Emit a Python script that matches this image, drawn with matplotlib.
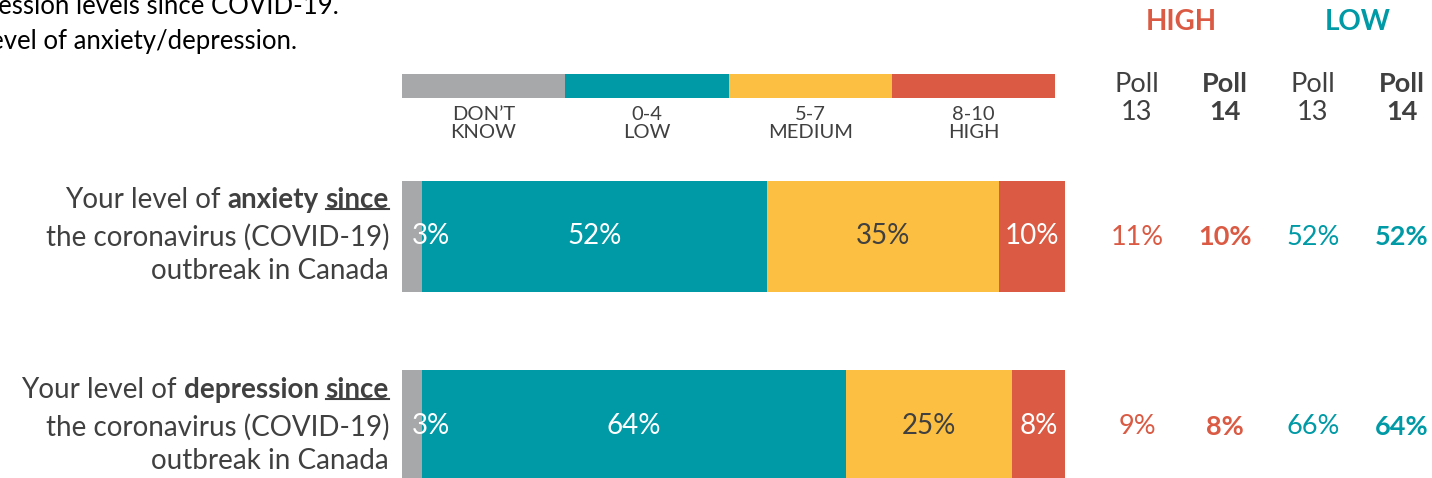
import matplotlib.pyplot as plt
import numpy as np

plt.rcParams['font.family'] = ['Lato', 'DejaVu Sans']

# chart values
rows = ['anxiety', 'depression']
dont_know = [3, 3]
low = [52, 64]
medium = [35, 25]
high = [10, 8]
high_poll13 = [11, 9]
high_poll14 = [10, 8]
low_poll13 = [52, 66]
low_poll14 = [52, 64]
legend_labels = ['DON\u2019T\nKNOW', '0-4\nLOW', '5-7\nMEDIUM', '8-10\nHIGH']
title_lines = ['depression levels since COVID-19.', 'level of anxiety/depression.']

W, H = 1432, 478
GRAY = '#A7A8AA'
TEAL = '#009AA6'
YELLOW = '#FDBF41'
RED = '#DA5A43'
DARK = '#404040'

def main():
    fig = plt.figure(figsize=(W/100, H/100), dpi=100)
    base = fig.add_axes([0, 0, 1, 1])
    base.set_xlim(0, W)
    base.set_ylim(H, 0)
    base.axis('off')
    drawTitle(base)
    drawLegend(fig, base)
    drawBars(fig)
    drawRowLabels(fig, base)
    drawPolls(base)
    fig.savefig('out.png', dpi=100)

# pxAxes() Function:
# makes an axes from pixel edges of the picture (y counted from the top)
def pxAxes(fig, x0, x1, y0, y1):
    return fig.add_axes([x0/W, 1-y1/H, (x1-x0)/W, (y1-y0)/H])

def drawTitle(base):
    base.text(339, 6, title_lines[0], ha='right', va='center', fontsize=18.5, color='black')
    base.text(297, 41, title_lines[1], ha='right', va='center', fontsize=18.5, color='black')

def drawLegend(fig, base):
    ax = pxAxes(fig, 402, 1055, 74, 98)
    colors = [GRAY, TEAL, YELLOW, RED]
    for i in range(4):
        ax.barh(0, 25, left=25*i, height=1, color=colors[i])
    ax.set_xlim(0, 100)
    ax.set_ylim(-0.5, 0.5)
    ax.axis('off')
    for i in range(4):
        x = 402 + (i+0.5)*653/4
        base.text(x, 106, legend_labels[i], ha='center', va='top', fontsize=14.5,
                  color=DARK, linespacing=1.1)

def drawBars(fig):
    ax = pxAxes(fig, 402, 1065, 181, 481)
    y = np.arange(len(rows))
    segments = [(dont_know, GRAY, 'white'), (low, TEAL, 'white'),
                (medium, YELLOW, DARK), (high, RED, 'white')]
    left = np.zeros(len(rows))
    for vals, color, tcolor in segments:
        vals = np.array(vals)
        ax.barh(y, vals, left=left, height=0.587, color=color)
        for k in range(len(rows)):
            if vals[k] < 5:
                ax.text(left[k]+1.5, y[k], f'{vals[k]}%', ha='left', va='center',
                        fontsize=20, color=tcolor)
            else:
                ax.text(left[k]+vals[k]/2, y[k], f'{vals[k]}%', ha='center', va='center',
                        fontsize=20, color=tcolor)
        left = left + vals
    ax.set_xlim(0, 100)
    ax.set_ylim(1.2935, -0.2935)
    ax.axis('off')

# drawRowLabels() Function:
# writes the row labels right aligned, with the bold and underlined words
# built piece by piece from right to left
def drawRowLabels(fig, base):
    renderer = fig.canvas.get_renderer()
    inv = base.transData.inverted()
    centers = [200, 390]
    for k in range(len(rows)):
        yc = centers[k]
        x = 389
        pieces = [('since', 'bold', True), (' ', 'normal', False),
                  (rows[k], 'bold', False), ('Your level of ', 'normal', False)]
        for txt, weight, under in pieces:
            t = base.text(x, yc, txt, ha='right', va='center', fontsize=20,
                          fontweight=weight, color=DARK)
            bb = t.get_window_extent(renderer)
            (xl, yb) = inv.transform((bb.x0, bb.y0))
            (xr, _) = inv.transform((bb.x1, bb.y0))
            if under:
                base.plot([xl, xr], [yb-4, yb-4], color=DARK, lw=1.5)
            x = xl
        base.text(389, yc+37, 'the coronavirus (COVID-19)', ha='right', va='center',
                  fontsize=20, color=DARK)
        base.text(389, yc+71, 'outbreak in Canada', ha='right', va='center',
                  fontsize=20, color=DARK)

def drawPolls(base):
    base.text(1181, 22, 'HIGH', ha='center', va='center', fontsize=20,
              fontweight='bold', color=RED)
    base.text(1358, 22, 'LOW', ha='center', va='center', fontsize=20,
              fontweight='bold', color=TEAL)
    cols = [1137, 1225, 1313, 1402]
    weights = ['normal', 'bold', 'normal', 'bold']
    for i in range(4):
        base.text(cols[i], 84, 'Poll', ha='center', va='center', fontsize=19.5,
                  fontweight=weights[i], color=DARK)
        base.text(cols[i], 112, '13' if i % 2 == 0 else '14', ha='center', va='center',
                  fontsize=19.5, fontweight=weights[i], color=DARK)
    series = [(high_poll13, RED), (high_poll14, RED), (low_poll13, TEAL), (low_poll14, TEAL)]
    ys = [237, 427]
    for i in range(4):
        vals, color = series[i]
        for k in range(len(rows)):
            base.text(cols[i], ys[k], f'{vals[k]}%', ha='center', va='center',
                      fontsize=19.5, fontweight=weights[i], color=color)

main()
